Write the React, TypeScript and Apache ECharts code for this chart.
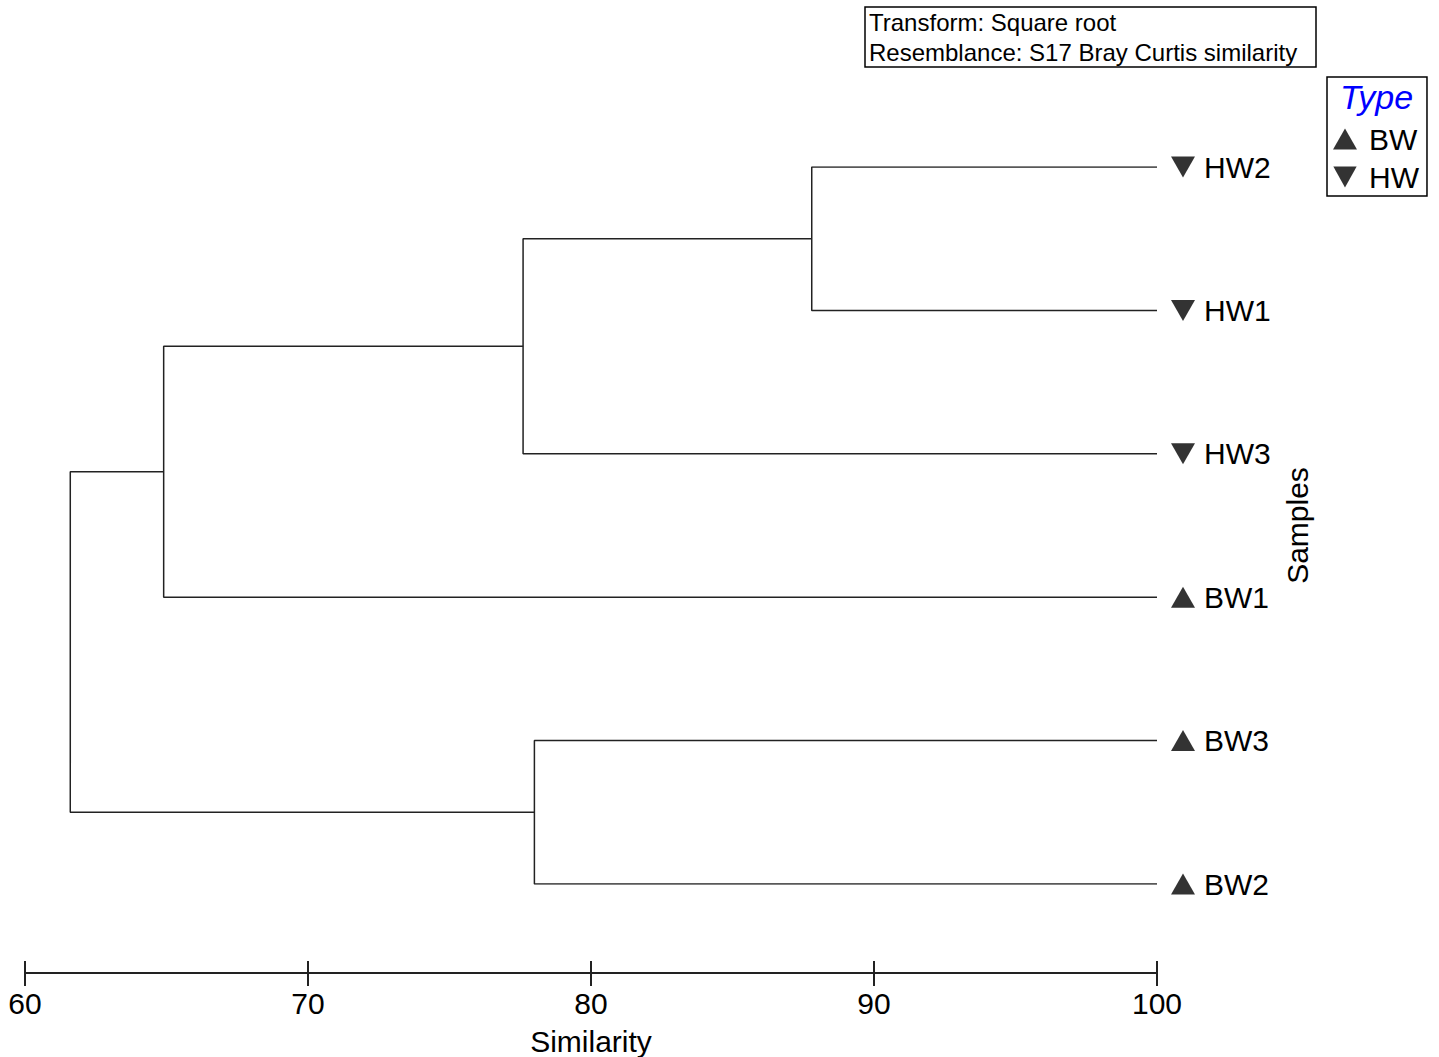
import React, { useEffect, useRef } from "react";
import * as echarts from "echarts";

// Leaves (top to bottom) and their types
const leaves = ["HW2", "HW1", "HW3", "BW1", "BW3", "BW2"];
const leafTypes = ["HW", "HW", "HW", "BW", "BW", "BW"];
// Merges: [childA, childB, similarity]; index >= leaves.length refers to earlier merges
const merges: [number, number, number][] = [
  [0, 1, 87.8],
  [6, 2, 77.6],
  [7, 3, 64.9],
  [4, 5, 78.0],
  [8, 9, 61.6],
];
const xTicks = [60, 70, 80, 90, 100];
const infoLines = ["Transform: Square root", "Resemblance: S17 Bray Curtis similarity"];
const legendTitle = "Type";
const typeNames = ["BW", "HW"];

const FONT = "'Liberation Sans', Arial, sans-serif";
const DOWN_TRI = "path://M0,0L20,0L10,18Z";

export default function App() {
  const ref = useRef<HTMLDivElement>(null);
  useEffect(() => {
    document.body.style.margin = "0";
    if (!ref.current) return;
    const chart = echarts.init(ref.current, null, { renderer: "svg" });

    // node positions: [similarity, y]
    const nodes: [number, number][] = leaves.map((_, i) => [100, i]);
    const lineSeries: any[] = [];
    merges.forEach(([a, b, s]) => {
      const A = nodes[a];
      const B = nodes[b];
      lineSeries.push({
        type: "line",
        data: [
          [A[0], A[1]],
          [s, A[1]],
          [s, B[1]],
          [B[0], B[1]],
        ],
        showSymbol: false,
        symbol: "none",
        lineStyle: { color: "#222", width: 1.5 },
        silent: true,
        animation: false,
        z: 2,
      });
      nodes.push([s, (A[1] + B[1]) / 2]);
    });

    const scatter = typeNames.map((t) => ({
      type: "scatter",
      name: t,
      data: leaves
        .map((_, i) => (leafTypes[i] === t ? [100, i] : null))
        .filter((d) => d !== null),
      symbol: "triangle",
      symbolRotate: t === "HW" ? 180 : 0,
      symbolSize: [24, 21],
      symbolOffset: [26, 0],
      itemStyle: { color: "#000" },
      clip: false,
      z: 3,
    }));

    chart.setOption({
      animation: false,
      textStyle: { fontFamily: FONT },
      title: {
        text: infoLines.join("\n"),
        left: 865,
        top: 7,
        padding: [0, 19, 0, 4],
        borderColor: "#000",
        borderWidth: 1.5,
        textStyle: {
          fontFamily: FONT,
          fontSize: 24,
          lineHeight: 30,
          fontWeight: "normal",
          color: "#000",
        },
      },
      legend: {
        orient: "vertical",
        left: 1327,
        top: 77,
        padding: [47, 8, 4, 6],
        itemGap: 8,
        itemWidth: 24,
        itemHeight: 21,
        borderColor: "#000",
        borderWidth: 1.5,
        data: [
          { name: "BW", icon: "triangle", itemStyle: { color: "#000" } },
          { name: "HW", icon: DOWN_TRI, itemStyle: { color: "#000" } },
        ],
        textStyle: { fontFamily: FONT, fontSize: 30, color: "#000", padding: [0, 0, 0, 7] },
        selectedMode: false,
      },
      graphic: [
        {
          type: "text",
          left: 1340,
          top: 80,
          style: {
            text: legendTitle,
            fontFamily: FONT,
            fontSize: 34,
            fontStyle: "italic",
            fill: "#0000ff",
          },
        },
      ],
      grid: { left: 25, right: 282, top: 167, bottom: 173, outerBoundsMode: "none", containLabel: false },
      xAxis: [
        {
          type: "value",
          min: xTicks[0],
          max: xTicks[xTicks.length - 1],
          interval: 10,
          position: "bottom",
          offset: 89,
          name: "Similarity",
          nameLocation: "middle",
          nameGap: 53,
          nameTextStyle: { fontFamily: FONT, fontSize: 30, color: "#000" },
          axisLine: { show: true, onZero: false, lineStyle: { color: "#222", width: 2 } },
          axisTick: { show: true, length: 13, lineStyle: { color: "#222", width: 2 } },
          axisLabel: { fontFamily: FONT, fontSize: 30, color: "#000", margin: 15 },
          splitLine: { show: false },
        },
        {
          type: "value",
          min: xTicks[0],
          max: xTicks[xTicks.length - 1],
          interval: 10,
          position: "bottom",
          offset: 89,
          axisLine: { show: false, onZero: false },
          axisTick: { show: true, inside: true, length: 12, lineStyle: { color: "#222", width: 2 } },
          axisLabel: { show: false },
          splitLine: { show: false },
        },
      ],
      yAxis: {
        type: "value",
        inverse: true,
        min: 0,
        max: leaves.length - 1,
        interval: 1,
        position: "right",
        name: "Samples",
        nameLocation: "middle",
        nameRotate: 90,
        nameGap: 125,
        nameTextStyle: { fontFamily: FONT, fontSize: 30, color: "#000" },
        axisLine: { show: false, onZero: false },
        axisTick: { show: false },
        splitLine: { show: false },
        axisLabel: {
          fontFamily: FONT,
          fontSize: 30,
          lineHeight: 30,
          color: "#000",
          margin: 47,
          padding: [0, 0, 8, 0],
          formatter: (v: number) => leaves[v] ?? "",
        },
      },
      series: [...lineSeries, ...scatter],
    });
    return () => chart.dispose();
  }, []);
  return <div ref={ref} style={{ width: 1439, height: 1057 }} />;
}
